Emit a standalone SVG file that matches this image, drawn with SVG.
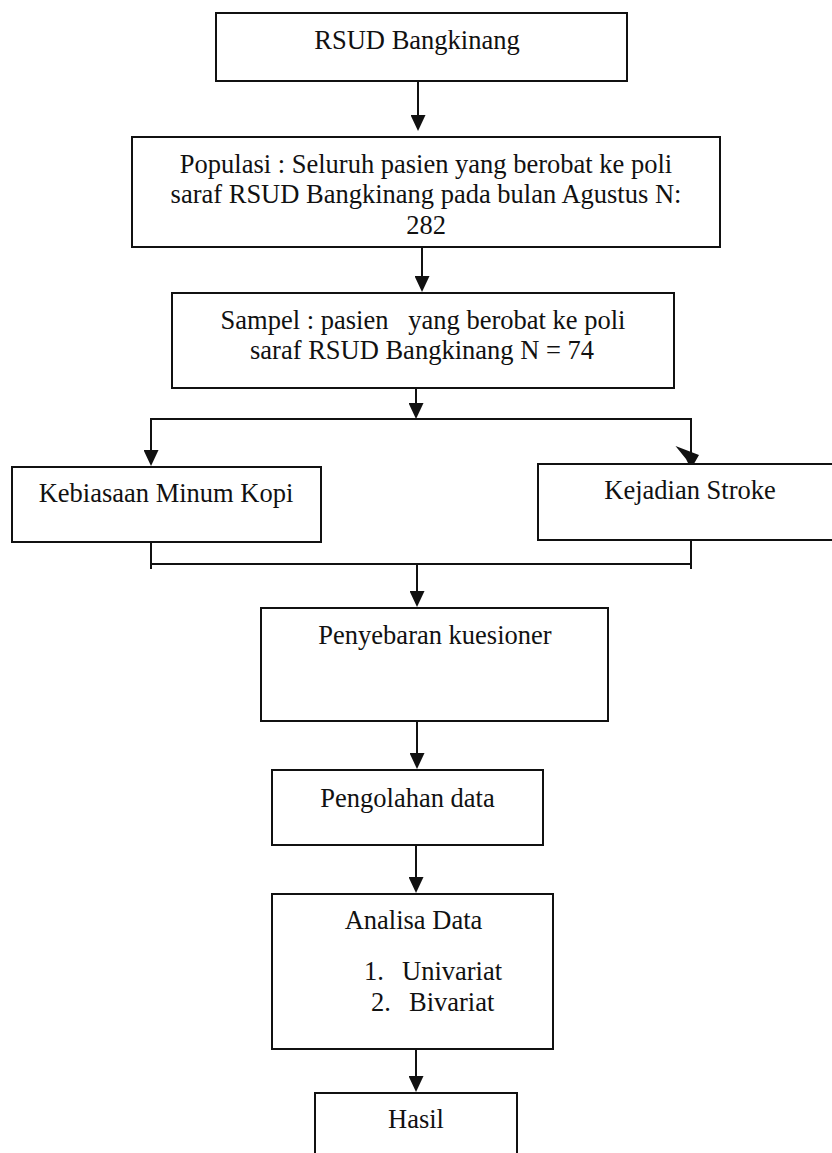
<svg xmlns="http://www.w3.org/2000/svg" width="832" height="1153" viewBox="0 0 832 1153">
<defs>
<style>
.box{fill:#fff;stroke:#111;stroke-width:2}
.t{font-family:"Liberation Serif","Times New Roman",serif;font-size:26.5px;fill:#111}
.c{text-anchor:middle}
.ln{fill:none;stroke:#111;stroke-width:2}
</style>
<marker id="ah" markerUnits="userSpaceOnUse" markerWidth="16" markerHeight="15" refX="12" refY="7.5" orient="auto" viewBox="0 0 16 15">
<path d="M0,0 L16,7.5 L0,15 z" fill="#111"/>
</marker>
</defs>
<rect width="832" height="1153" fill="#fff"/>
<g id="connectors">
<path class="ln" d="M418,81 V127" marker-end="url(#ah)"/>
<path class="ln" d="M422,247 V288" marker-end="url(#ah)"/>
<path class="ln" d="M416,388 V415" marker-end="url(#ah)"/>
<path class="ln" d="M416,419 H151 V462" marker-end="url(#ah)"/>
<path class="ln" d="M416,419 H691 V466"/>
<polygon points="675.5,446 699,455 691,469 686,459" fill="#111"/>
<path class="ln" d="M151,542 V569 M691,540 V569 M151,564 H691"/>
<path class="ln" d="M417,564 V603" marker-end="url(#ah)"/>
<path class="ln" d="M417,721 V765" marker-end="url(#ah)"/>
<path class="ln" d="M416,845 V889" marker-end="url(#ah)"/>
<path class="ln" d="M416,1044 V1088" marker-end="url(#ah)"/>
</g>
<g id="rsud">
<rect class="box" x="216" y="13" width="411" height="68"/>
<text class="t c" x="417" y="49">RSUD Bangkinang</text>
</g>
<g id="populasi">
<rect class="box" x="132" y="137" width="588" height="110"/>
<text class="t c" x="426" y="173">Populasi : Seluruh pasien yang berobat ke poli</text>
<text class="t c" x="426" y="203">saraf RSUD Bangkinang pada bulan Agustus N:</text>
<text class="t c" x="426" y="234">282</text>
</g>
<g id="sampel">
<rect class="box" x="172" y="293" width="502" height="95"/>
<text class="t c" x="423" y="329" xml:space="preserve">Sampel : pasien   yang berobat ke poli</text>
<text class="t c" x="422" y="359">saraf RSUD Bangkinang N = 74</text>
</g>
<g id="kopi">
<rect class="box" x="12" y="467" width="309" height="75"/>
<text class="t c" x="166" y="502">Kebiasaan Minum Kopi</text>
</g>
<g id="stroke">
<rect class="box" x="538" y="464" width="304" height="76"/>
<text class="t c" x="690" y="499">Kejadian Stroke</text>
</g>
<g id="kuesioner">
<rect class="box" x="261" y="608" width="347" height="113"/>
<text class="t c" x="435" y="644">Penyebaran kuesioner</text>
</g>
<g id="pengolahan">
<rect class="box" x="272" y="770" width="271" height="75"/>
<text class="t c" x="407.5" y="807">Pengolahan data</text>
</g>
<g id="analisa">
<rect class="box" x="272" y="894" width="281" height="155"/>
<text class="t c" x="413.5" y="929">Analisa Data</text>
<text class="t" y="980"><tspan x="364">1.</tspan><tspan x="402">Univariat</tspan></text>
<text class="t" y="1011"><tspan x="371">2.</tspan><tspan x="409">Bivariat</tspan></text>
</g>
<g id="hasil">
<rect class="box" x="315" y="1093" width="202" height="80"/>
<text class="t c" x="416" y="1128">Hasil</text>
</g>
</svg>
